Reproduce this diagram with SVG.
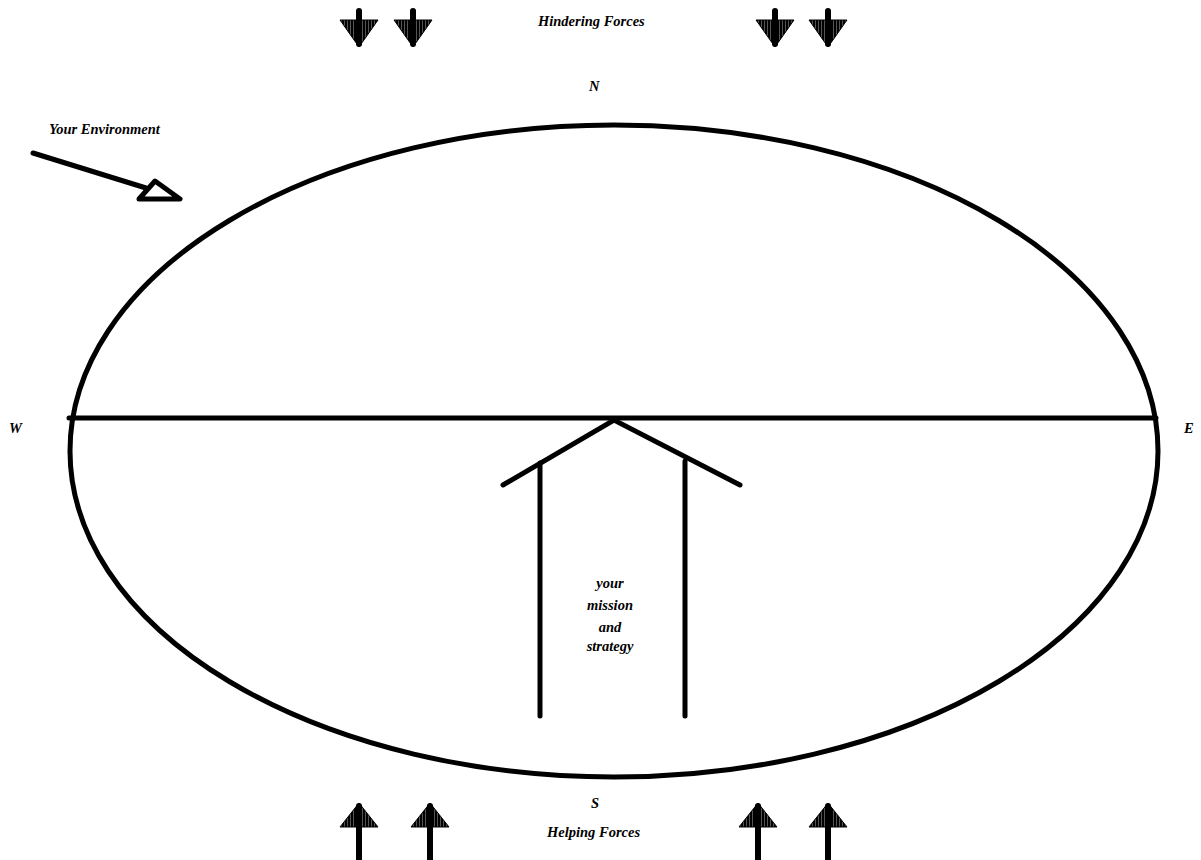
<svg xmlns="http://www.w3.org/2000/svg" width="1201" height="860" viewBox="0 0 1201 860">
<defs>
<pattern id="hatch" width="3" height="4" patternUnits="userSpaceOnUse">
<rect width="3" height="4" fill="#000"/>
<rect x="2" width="1" height="4" fill="#555"/>
</pattern>
<style>
.ln{stroke:#000;stroke-width:5;fill:none;stroke-linecap:round}
.stem{stroke:#000;stroke-width:6;fill:none;stroke-linecap:round}
.head{fill:url(#hatch);stroke:#000;stroke-width:1}
.t{font-family:"Liberation Serif","Times New Roman",serif;font-style:italic;font-weight:bold;font-size:14.5px;fill:#000}
</style>
</defs>
<rect width="1201" height="860" fill="#fff"/>
<g id="environment">
<ellipse cx="614" cy="451" rx="544" ry="326" class="ln"/>
<line x1="69" y1="418" x2="1156" y2="418" class="ln"/>
</g>
<g id="mission">
<polyline points="503,485 614,420 740,485" class="ln"/>
<line x1="540" y1="463" x2="540" y2="716" class="ln"/>
<line x1="685" y1="461" x2="685" y2="716" class="ln"/>
<text class="t" text-anchor="middle" x="610" y="588">your</text>
<text class="t" text-anchor="middle" x="610" y="610">mission</text>
<text class="t" text-anchor="middle" x="610" y="632">and</text>
<text class="t" text-anchor="middle" x="610" y="651">strategy</text>
</g>
<g id="env-arrow">
<line x1="33" y1="153" x2="146" y2="188" class="ln"/>
<polygon points="155,181 180,199 139,199" fill="#fff" stroke="#000" stroke-width="5" stroke-linejoin="round"/>
<text class="t" x="49" y="134">Your Environment</text>
</g>
<g id="hindering">
<g id="h1"><polygon points="340,20 378,20 359,47" class="head"/><line x1="359" y1="11" x2="359" y2="44" class="stem"/></g>
<g id="h2"><polygon points="394,20 432,20 413,47" class="head"/><line x1="413" y1="11" x2="413" y2="44" class="stem"/></g>
<g id="h3"><polygon points="756,20 794,20 775,47" class="head"/><line x1="775" y1="11" x2="775" y2="44" class="stem"/></g>
<g id="h4"><polygon points="809,20 847,20 828,47" class="head"/><line x1="828" y1="11" x2="828" y2="44" class="stem"/></g>
<text class="t" x="538" y="26">Hindering Forces</text>
</g>
<g id="helping">
<g id="p1"><polygon points="359,803 340,827 378,827" class="head"/><line x1="359" y1="806" x2="359" y2="860" class="stem" stroke-linecap="butt"/></g>
<g id="p2"><polygon points="430,803 411,827 449,827" class="head"/><line x1="430" y1="806" x2="430" y2="860" class="stem" stroke-linecap="butt"/></g>
<g id="p3"><polygon points="758,803 739,827 777,827" class="head"/><line x1="758" y1="806" x2="758" y2="860" class="stem" stroke-linecap="butt"/></g>
<g id="p4"><polygon points="828,803 809,827 847,827" class="head"/><line x1="828" y1="806" x2="828" y2="860" class="stem" stroke-linecap="butt"/></g>
<text class="t" x="547" y="837">Helping Forces</text>
</g>
<g id="compass">
<text class="t" x="589" y="91">N</text>
<text class="t" x="591" y="808">S</text>
<text class="t" x="9" y="433">W</text>
<text class="t" x="1184" y="433">E</text>
</g>
</svg>
